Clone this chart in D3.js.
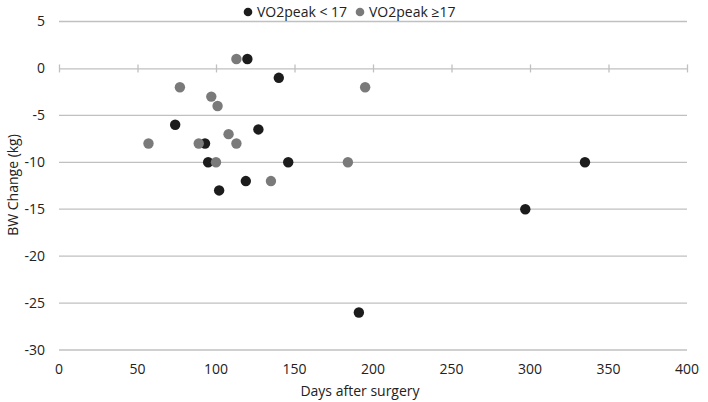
<!DOCTYPE html>
<html><head><meta charset="utf-8">
<script src="https://cdn.jsdelivr.net/npm/d3@7"></script>
<style>body{margin:0;background:#fff}svg{display:block}text{font-family:"Open Sans",sans-serif;fill:#222}</style>
</head><body><svg id="c" width="708" height="402"></svg>
<script>
const xTicks = [0,50,100,150,200,250,300,350,400];
const yTicks = [5,0,-5,-10,-15,-20,-25,-30];
const lowDays = [74,93,95,102,119,120,127,140,146,191,297,335];
const lowBW   = [-6,-8,-10,-13,-12,1,-6.5,-1,-10,-26,-15,-10];
const highDays = [57,77,89,97,100,101,108,113,113,135,184,195];
const highBW   = [-8,-2,-8,-3,-10,-4,-7,-8,1,-12,-10,-2];
const seriesNames = ["VO2peak < 17","VO2peak \u226517"];
const colors = ["#1c1c1c","#7a7a7a"];

const svg = d3.select("#c");
const x = d3.scaleLinear().domain([0,400]).range([59,687]);
const y = d3.scaleLinear().domain([-30,5]).range([350,21.5]);

// grid
svg.append("g").selectAll("line").data(yTicks.filter(d=>d!==0)).join("line")
  .attr("x1",x(0)).attr("x2",x(400)).attr("y1",d=>y(d)).attr("y2",d=>y(d))
  .attr("stroke","#c0c0c0").attr("stroke-width",1.3);

// zero axis with ticks
const ax = svg.append("g").attr("transform",`translate(0,${y(0)})`)
  .call(d3.axisBottom(x).tickValues(xTicks).tickSize(4).tickSizeOuter(0).tickFormat(""));
ax.select(".domain").attr("stroke","#c0c0c0").attr("stroke-width",1.3);
ax.selectAll(".tick line").attr("stroke","#c0c0c0").attr("stroke-width",1.3).attr("y1",-4).attr("y2",4);

// y labels
svg.append("g").selectAll("text").data(yTicks).join("text")
  .attr("x",45).attr("y",d=>y(d)).attr("dy","0.35em").attr("text-anchor","end")
  .attr("font-size",14).text(d=>d);
// x labels
svg.append("g").selectAll("text").data(xTicks).join("text")
  .attr("x",d=>x(d)).attr("y",369).attr("dy","0.35em").attr("text-anchor","middle")
  .attr("font-size",14).text(d=>d);

svg.append("text").attr("x",360).attr("y",391).attr("dy","0.35em").attr("text-anchor","middle")
  .attr("font-size",14).text("Days after surgery");
svg.append("text").attr("transform",`translate(13,185) rotate(-90)`).attr("dy","0.35em")
  .attr("text-anchor","middle").attr("font-size",14).text("BW Change (kg)");

// points
const data = [
  lowDays.map((d,i)=>({x:d,y:lowBW[i]})),
  highDays.map((d,i)=>({x:d,y:highBW[i]}))
];
data.forEach((s,k)=>{
  svg.append("g").selectAll("circle").data(s).join("circle")
    .attr("cx",d=>x(d.x)).attr("cy",d=>y(d.y)).attr("r",5.2).attr("fill",colors[k]);
});

// legend
const leg = [[248,257],[360,369]];
seriesNames.forEach((n,k)=>{
  svg.append("circle").attr("cx",leg[k][0]).attr("cy",12).attr("r",4.3).attr("fill",colors[k]);
  svg.append("text").attr("x",leg[k][1]).attr("y",12).attr("dy","0.35em").attr("font-size",14).text(n);
});
</script></body></html>
